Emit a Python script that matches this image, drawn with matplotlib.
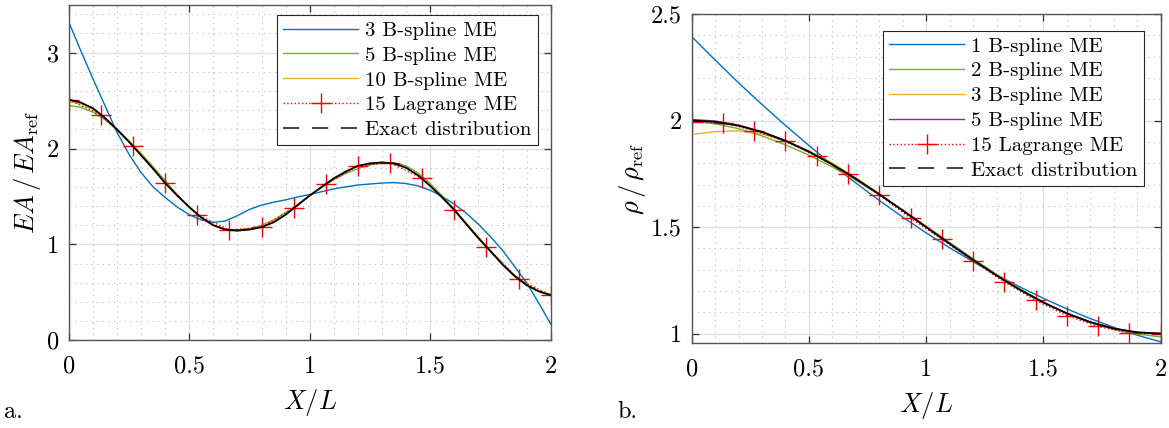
import numpy as np
import matplotlib
matplotlib.use('Agg')
import matplotlib.pyplot as plt
from matplotlib.lines import Line2D
from matplotlib.ticker import MultipleLocator, FormatStrFormatter

plt.rcParams['font.family'] = 'cmr10'
plt.rcParams['mathtext.fontset'] = 'cm'
plt.rcParams['axes.formatter.use_mathtext'] = True

# ---- panel a: axial stiffness EA/EA_ref ----
x_a = np.linspace(0, 2, 41)
exact_a = [2.51, 2.48, 2.42, 2.32, 2.20, 2.07, 1.93, 1.79, 1.64, 1.51, 1.39,
           1.28, 1.20, 1.155, 1.145, 1.155, 1.18, 1.23, 1.31, 1.41, 1.51,
           1.60, 1.69, 1.76, 1.82, 1.845, 1.855, 1.845, 1.80, 1.72, 1.61,
           1.49, 1.36, 1.21, 1.065, 0.93, 0.79, 0.67, 0.575, 0.51, 0.47]
bs3_a = [3.32, 3.02, 2.73, 2.45, 2.17, 1.94, 1.75, 1.60, 1.49, 1.39, 1.31,
         1.255, 1.23, 1.245, 1.30, 1.365, 1.41, 1.44, 1.465, 1.495, 1.52,
         1.55, 1.58, 1.60, 1.62, 1.63, 1.64, 1.645, 1.635, 1.61, 1.565,
         1.50, 1.42, 1.325, 1.21, 1.08, 0.94, 0.77, 0.60, 0.39, 0.17]
bs5_a = [2.45, 2.43, 2.38, 2.30, 2.20, 2.08, 1.95, 1.81, 1.665, 1.52, 1.39,
         1.28, 1.20, 1.16, 1.15, 1.165, 1.20, 1.255, 1.33, 1.415, 1.51,
         1.595, 1.675, 1.74, 1.79, 1.83, 1.85, 1.85, 1.82, 1.745, 1.635,
         1.505, 1.365, 1.22, 1.075, 0.935, 0.80, 0.68, 0.585, 0.515, 0.48]
bs10_a = [2.49, 2.465, 2.41, 2.315, 2.20, 2.075, 1.94, 1.795, 1.645, 1.51, 1.385,
          1.275, 1.195, 1.15, 1.14, 1.155, 1.19, 1.24, 1.315, 1.41, 1.51,
          1.60, 1.685, 1.76, 1.815, 1.845, 1.855, 1.84, 1.795, 1.72, 1.615,
          1.49, 1.355, 1.21, 1.065, 0.93, 0.795, 0.675, 0.58, 0.515, 0.475]
x_nodes = np.linspace(0, 2, 16)
lag_a = [2.51, 2.35, 2.03, 1.64, 1.31, 1.15, 1.18, 1.38, 1.63, 1.82, 1.85,
         1.69, 1.36, 0.975, 0.635, 0.47]
labels_a = ['3 B-spline ME', '5 B-spline ME', '10 B-spline ME',
            '15 Lagrange ME', 'Exact distribution']

# ---- panel b: density rho/rho_ref ----
x_b = np.linspace(0, 2, 21)
exact_b = [2.000, 1.994, 1.976, 1.946, 1.905, 1.854, 1.794, 1.727, 1.654, 1.578,
           1.500, 1.422, 1.346, 1.273, 1.206, 1.146, 1.095, 1.054, 1.024, 1.006, 1.000]
bs1_b = [2.394, 2.284, 2.177, 2.075, 1.977, 1.883, 1.792, 1.707, 1.625, 1.547,
         1.473, 1.403, 1.338, 1.276, 1.219, 1.166, 1.116, 1.071, 1.030, 0.993, 0.962]
bs2_b = [1.995, 1.985, 1.962, 1.928, 1.886, 1.838, 1.782, 1.720, 1.652, 1.580,
         1.505, 1.428, 1.352, 1.279, 1.210, 1.148, 1.095, 1.052, 1.020, 0.998, 0.985]
bs3_b = [1.935, 1.948, 1.952, 1.937, 1.905, 1.858, 1.800, 1.732, 1.657, 1.578,
         1.500, 1.422, 1.345, 1.272, 1.205, 1.146, 1.096, 1.055, 1.025, 1.006, 1.000]
bs5_b = [2.005, 1.998, 1.979, 1.948, 1.906, 1.855, 1.795, 1.727, 1.654, 1.578,
         1.500, 1.422, 1.346, 1.273, 1.206, 1.147, 1.096, 1.055, 1.025, 1.007, 1.002]
lag_b = [1.995, 1.99, 1.953, 1.902, 1.832, 1.748, 1.650, 1.543, 1.443, 1.341,
         1.243, 1.156, 1.085, 1.034, 1.002, 1.0]
labels_b = ['1 B-spline ME', '2 B-spline ME', '3 B-spline ME', '5 B-spline ME',
            '15 Lagrange ME', 'Exact distribution']

blue, green, orange, purple = '#0072BD', '#77AC30', '#EDB120', '#7E2F8E'


def style(ax, ylim, ymaj, ymin):
    ax.set_xlim(0, 2)
    ax.set_ylim(*ylim)
    ax.xaxis.set_major_locator(MultipleLocator(0.5))
    ax.xaxis.set_minor_locator(MultipleLocator(0.1))
    ax.yaxis.set_major_locator(MultipleLocator(ymaj))
    ax.yaxis.set_minor_locator(MultipleLocator(ymin))
    ax.xaxis.set_major_formatter(FormatStrFormatter('%g'))
    ax.yaxis.set_major_formatter(FormatStrFormatter('%g'))
    ax.grid(which='major', color='#dedede', lw=0.9, ls='-')
    ax.grid(which='minor', color='#bdbdbd', lw=0.8, ls=(0, (1, 4)))
    ax.set_axisbelow(True)
    ax.tick_params(which='major', direction='in', length=5, width=0.9,
                   color='#333333', top=True, right=True, labelsize=17.5)
    ax.tick_params(which='minor', length=0)
    ax.tick_params(axis='x', pad=11)
    ax.tick_params(axis='y', pad=7)
    for s in ax.spines.values():
        s.set_color('#555555')
        s.set_linewidth(1.0)


def add_legend(ax, handles, labels, anchor):
    # the exact curve looks solid in the plot but dashed in the legend
    proxy = Line2D([], [], color='#333333', lw=1.3, ls=(0, (9, 7)))
    leg = ax.legend(handles[:-1] + [proxy], labels, loc='upper right',
                    bbox_to_anchor=anchor, bbox_transform=fig.transFigure,
                    borderaxespad=0, fontsize=15, handlelength=3.6,
                    handletextpad=0.35, borderpad=0.3, labelspacing=0.3,
                    fancybox=False, framealpha=1, numpoints=1)
    leg.get_frame().set_edgecolor('#262626')
    leg.get_frame().set_linewidth(0.8)


fig = plt.figure(figsize=(11.69, 4.28), dpi=100)
ax1 = fig.add_axes([0.0588, 0.2049, 0.4123, 0.7841])
ax2 = fig.add_axes([0.5917, 0.1979, 0.4012, 0.7694])

h = []
h += ax1.plot(x_a, bs3_a, color=blue, lw=1.0)
h += ax1.plot(x_a, bs5_a, color=green, lw=1.0)
h += ax1.plot(x_a, bs10_a, color=orange, lw=1.0)
h += ax1.plot(x_nodes, lag_a, color='red', ls=':', lw=1.0, marker='+', ms=14, mew=1.0)
h += ax1.plot(x_a, exact_a, color='black', lw=1.3)
style(ax1, (0, 3.5), 1, 0.2)
ax1.set_xlabel('$X/L$', fontsize=19, va='center')
ax1.xaxis.set_label_coords(0.5, -0.184)
ax1.set_ylabel(r'$EA\,/\,EA_{\mathrm{ref}}$', fontsize=19, va='center')
ax1.yaxis.set_label_coords(-0.0865, 0.5)
add_legend(ax1, h, labels_a, (538 / 1169, 1 - 15 / 428))

h = []
h += ax2.plot(x_b, bs1_b, color=blue, lw=1.0)
h += ax2.plot(x_b, bs2_b, color=green, lw=1.0)
h += ax2.plot(x_b, bs3_b, color=orange, lw=1.0)
h += ax2.plot(x_b, bs5_b, color=purple, lw=1.0)
h += ax2.plot(x_nodes, lag_b, color='red', ls=':', lw=1.0, marker='+', ms=14, mew=1.0)
h += ax2.plot(x_b, exact_b, color='black', lw=1.3)
style(ax2, (0.955, 2.5), 0.5, 0.1)
ax2.set_xlabel('$X/L$', fontsize=19, va='center')
ax2.xaxis.set_label_coords(0.5, -0.19)
ax2.set_ylabel(r'$\rho\,/\,\rho_{\mathrm{ref}}$', fontsize=19, va='center')
ax2.yaxis.set_label_coords(-0.127, 0.5)
add_legend(ax2, h, labels_b, (1144 / 1169, 1 - 30.7 / 428))

fig.text(4 / 1169, 1 - 412 / 428, 'a.', fontsize=17.5, va='center', ha='left')
fig.text(617 / 1169, 1 - 412 / 428, 'b.', fontsize=17.5, va='center', ha='left')

fig.savefig('out.png', dpi=100)
